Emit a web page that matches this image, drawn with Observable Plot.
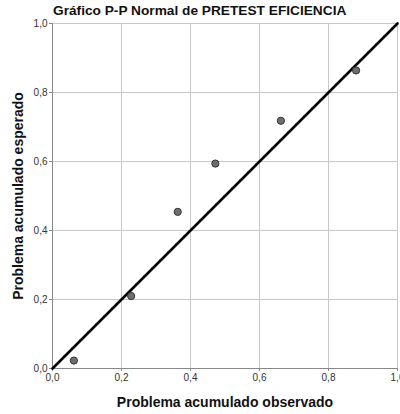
<!DOCTYPE html>
<html>
<head>
<meta charset="utf-8">
<script src="https://cdn.jsdelivr.net/npm/d3@7"></script>
<script src="https://cdn.jsdelivr.net/npm/@observablehq/plot@0.6"></script>
<style>
  body { margin: 0; background: #fff; font-family: "Liberation Sans", Arial, sans-serif; }
  #wrap { position: relative; width: 400px; height: 414px; overflow: hidden; }
  #title { position: absolute; left: 53px; top: 3px; font-size: 13.7px; font-weight: bold; color: #111; white-space: nowrap; }
</style>
</head>
<body>
<div id="wrap"><div id="title"></div></div>
<script>
const title = "Gráfico P-P Normal de PRETEST EFICIENCIA";
const xLabel = "Problema acumulado observado";
const yLabel = "Problema acumulado esperado";
const observed = [0.062, 0.228, 0.363, 0.472, 0.662, 0.880];
const expected = [0.023, 0.210, 0.454, 0.594, 0.718, 0.864];
const ticks = [0, 0.2, 0.4, 0.6, 0.8, 1.0];
const diagonal = [0, 1];

document.getElementById("title").textContent = title;
const points = observed.map((x, i) => ({x, y: expected[i]}));
const fmt = d => d3.format(".1f")(d).replace(".", ",");

const chart = Plot.plot({
  width: 400,
  height: 414,
  marginLeft: 52,
  marginRight: 3,
  marginTop: 23,
  marginBottom: 46,
  style: {fontFamily: "Liberation Sans, Arial, sans-serif", fontSize: "10px", color: "#333", background: "transparent", overflow: "visible"},
  x: {domain: [0, 1]},
  y: {domain: [0, 1]},
  marks: [
    Plot.gridX(ticks.filter(d => d > 0), {stroke: "#c8c8c8", strokeOpacity: 1, strokeWidth: 1}),
    Plot.gridY(ticks.filter(d => d > 0), {stroke: "#c8c8c8", strokeOpacity: 1, strokeWidth: 1}),
    Plot.axisX({ticks, tickFormat: fmt, tickSize: 3, tickPadding: 2, label: null, stroke: "#888"}),
    Plot.axisY({ticks, tickFormat: fmt, tickSize: 3, tickPadding: 2, label: null, stroke: "#888"}),
    Plot.ruleX([0], {stroke: "#888"}),
    Plot.ruleY([0], {stroke: "#888"}),
    Plot.line(diagonal.map(d => ({x: d, y: d})), {x: "x", y: "y", stroke: "#000", strokeWidth: 2.6}),
    Plot.dot(points, {x: "x", y: "y", r: 3.6, fill: "#6e6e6e", stroke: "#333", strokeWidth: 1}),
    Plot.text([xLabel], {frameAnchor: "bottom", textAnchor: "middle", lineAnchor: "middle", dy: 34, fontWeight: "bold", fontSize: 14, fill: "#111"}),
    Plot.text([yLabel], {frameAnchor: "left", textAnchor: "middle", lineAnchor: "middle", rotate: -90, dx: -34, fontWeight: "bold", fontSize: 14, fill: "#111"})
  ]
});
document.getElementById("wrap").appendChild(chart);
</script>
</body>
</html>
